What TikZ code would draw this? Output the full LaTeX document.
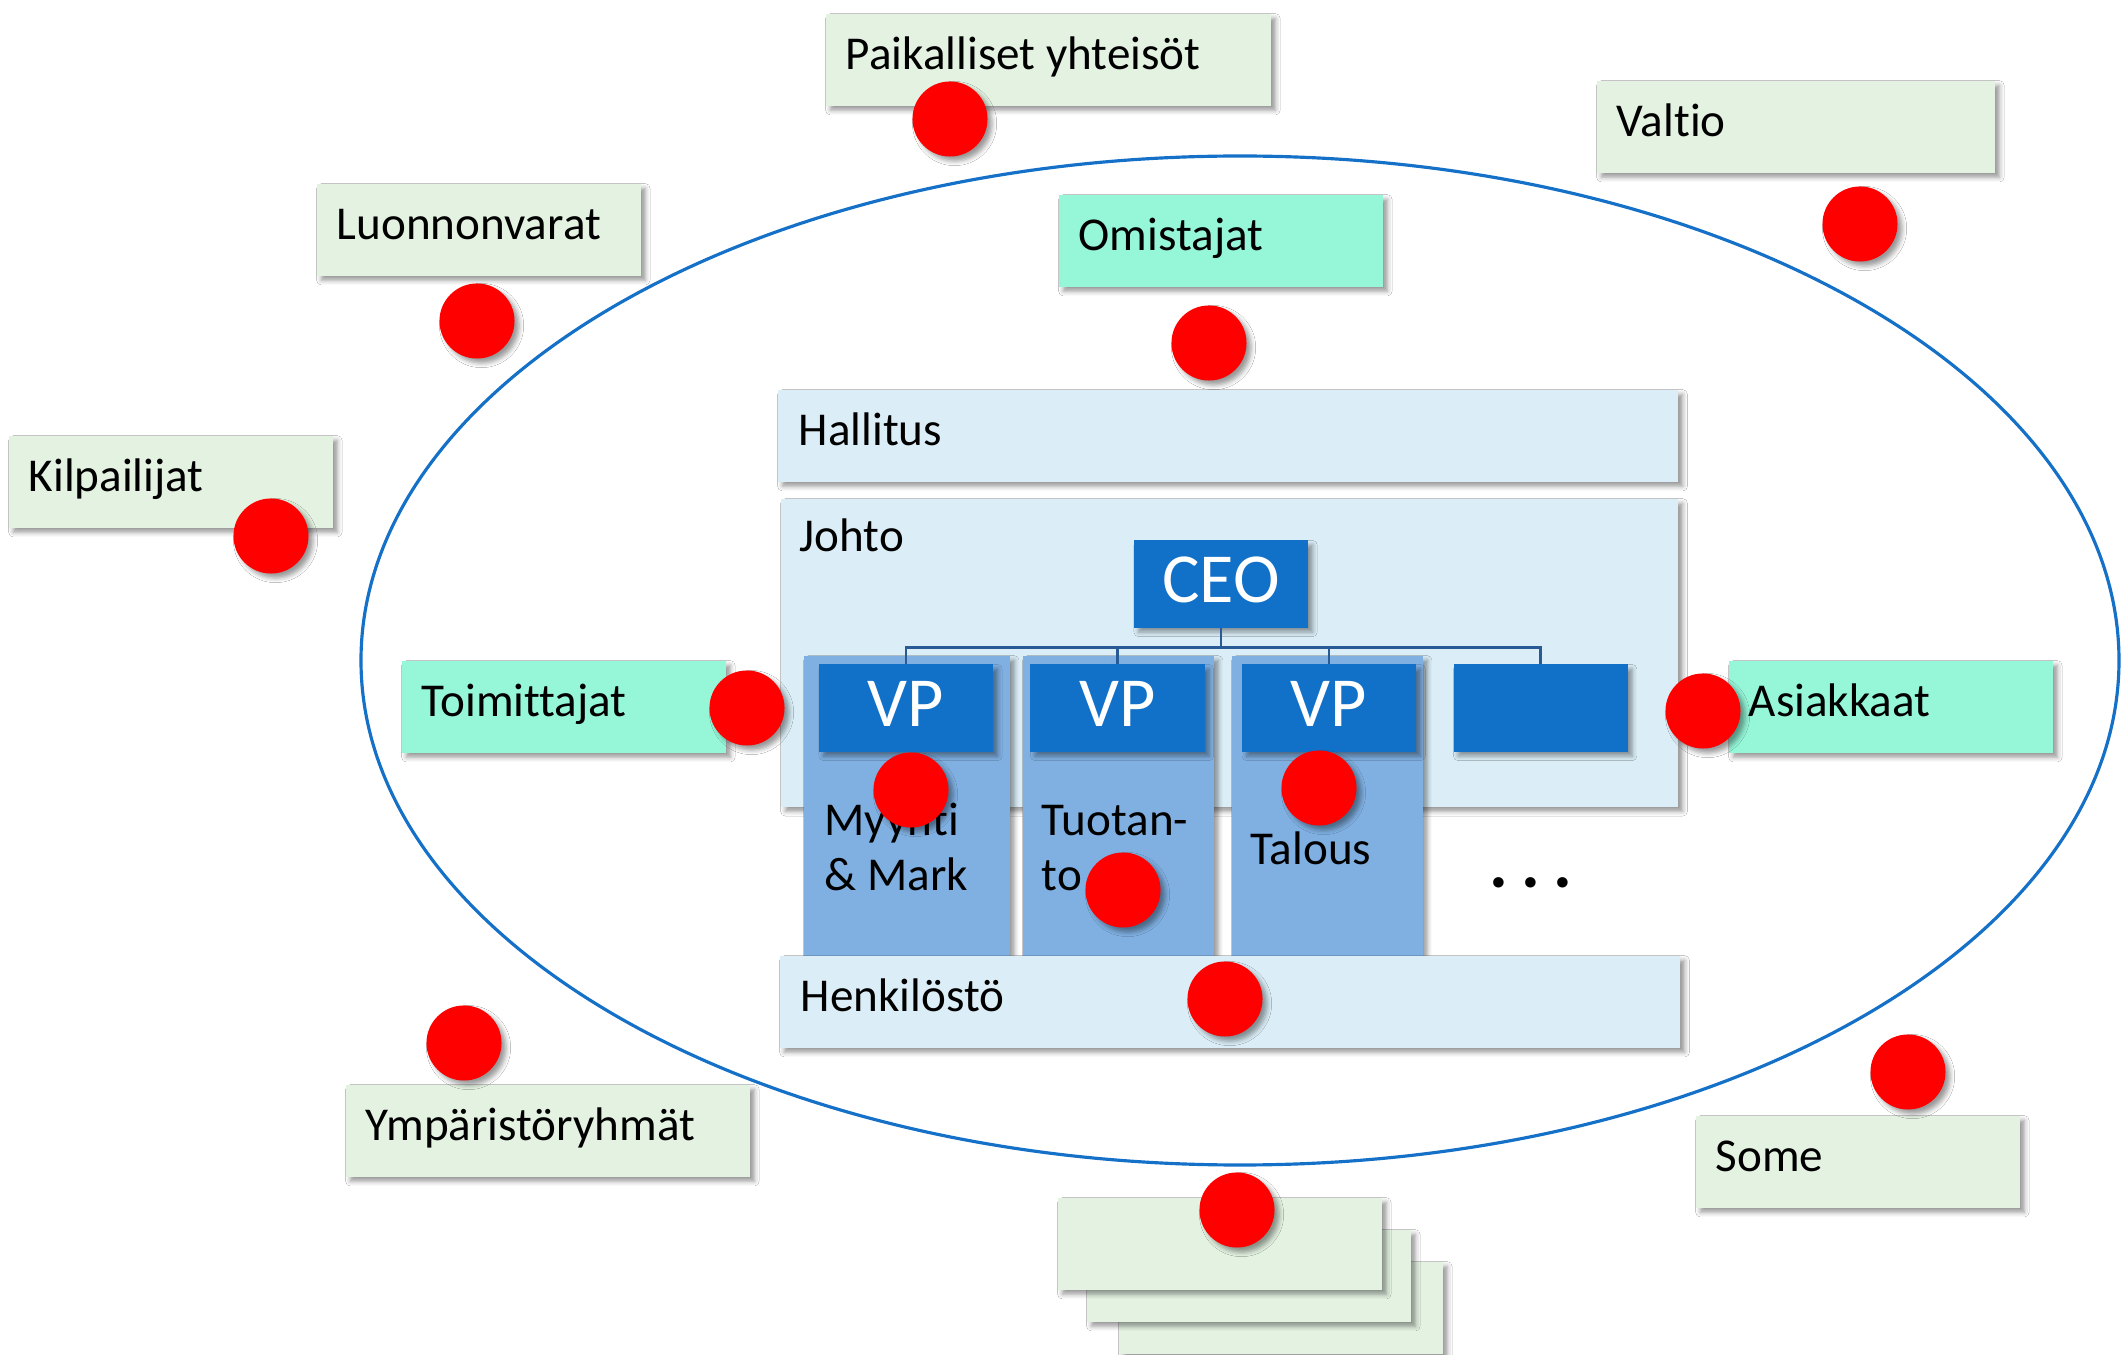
\documentclass[tikz,border=0pt]{standalone}
\usepackage{fontspec}
\setmainfont{Carlito}[Ligatures={NoCommon}]
\usetikzlibrary{positioning,calc,shadows.blur}

\definecolor{ringblue}{RGB}{21,112,200}
\definecolor{palegreen}{RGB}{227,242,225}
\definecolor{aquagreen}{RGB}{149,246,216}
\definecolor{bandblue}{RGB}{219,238,247}
\definecolor{colblue}{RGB}{128,176,226}
\definecolor{vpblue}{RGB}{17,112,200}
\definecolor{linkblue}{RGB}{40,90,150}

\pgfdeclareradialshading{vignette}{\pgfpoint{0bp}{0bp}}{%
  color(0bp)=(white); color(40bp)=(white); color(71bp)=(black!22)}

\tikzset{
  softshadow/.style={blur shadow={shadow xshift=1.3pt, shadow yshift=-1.3pt,
      shadow blur radius=1.3pt, shadow opacity=40}},
  stakebox/.style={rectangle, anchor=north west, fill=palegreen, softshadow,
      minimum height=9.2mm, inner xsep=2mm, inner ysep=0pt, align=flush left,
      text height=3.1mm, text depth=1.1mm, text width=#1},
  stakebox/.default=28.4mm,
  innerbox/.style={stakebox=#1, fill=aquagreen},
  innerbox/.default=28.4mm,
  band/.style={rectangle, anchor=north west, fill=bandblue, softshadow,
      minimum height=9.2mm, inner xsep=2.1mm, inner ysep=0pt, align=flush left,
      text height=3.1mm, text depth=1.1mm, text width=85.8mm},
  deptcol/.style={rectangle, anchor=north west, fill=colblue, softshadow,
      inner sep=0pt, minimum height=30mm, minimum width=#1},
  orgbox/.style={rectangle, fill=vpblue, softshadow, text=white, inner sep=0pt,
      minimum width=17.4mm, minimum height=8.7mm, text height=4.5mm,
      text depth=0.8mm, font=\fontsize{20}{24}\selectfont},
  link/.style={draw=linkblue, line width=0.8pt},
  plaintext/.style={anchor=base west, inner sep=0pt, align=left},
  reddot/.style={circle, fill=red, minimum size=7.5mm, inner sep=0pt, softshadow},
}

\begin{document}
\begin{tikzpicture}[x=0.01cm, y=-0.01cm, font=\fontsize{13.4}{15.5}\selectfont]
  \useasboundingbox (0,0) rectangle (2126,1355);
  % background
  \begin{scope}
    \clip (0,0) rectangle (2126,1355);
    \shade[shading=vignette] (-50,-60) rectangle (2500,1415);
  \end{scope}

  % organisation boundary
  \draw[ringblue, line width=0.9pt] (1240,660.5) ellipse [x radius=879, y radius=504.5];

  % organisation
  \node[band] (hallitus) at (777,389) {Hallitus};
  \node[band, text width=85.5mm, minimum height=30.8mm] (johto) at (780,498) {};
  \node[plaintext] (johtolbl) at (799,552) {Johto};
  \node[deptcol=20.6mm] (col1) at (803,655) {};
  \node[deptcol=19.1mm] (col2) at (1022,655) {};
  \node[deptcol=19.1mm] (col3) at (1231,655) {};

  \node[orgbox] (ceo) at (1221,584) {CEO};
  \node[orgbox] (vp1) at (906,708) {VP};
  \node[orgbox, right=3.6mm of vp1] (vp2) {VP};
  \node[orgbox, right=3.6mm of vp2] (vp3) {VP};
  \node[orgbox, right=3.6mm of vp3] (vp4) {};
  \foreach \v in {vp1,vp2,vp3,vp4}
    \draw[link] (ceo.south) -- ++(0,19) -| (\v.north);

  \node[band] (henkilosto) at (779,955) {Henkilöstö};

  % departments
  \node[plaintext] (myynti) at (824,890) {Myynti\\\& Mark};
  \node[plaintext] (tuotanto) at (1041,890) {Tuotan-\\to};
  \node[plaintext] (talous) at (1250,864) {Talous};
  \node[anchor=base, inner sep=0pt, font=\fontsize{20}{24}\selectfont\bfseries] (more)
    at (1531,887) {.\hspace{1.3mm}.\hspace{1.3mm}.};

  % stakeholders
  \node[stakebox=40.5mm] (paikalliset) at (825,13) {Paikalliset yhteisöt};
  \node[stakebox=35.8mm] (valtio) at (1596,80) {Valtio};
  \node[stakebox] (luonnonvarat) at (316,183) {Luonnonvarat};
  \node[innerbox] (omistajat) at (1058,194) {Omistajat};
  \node[stakebox] (kilpailijat) at (8,435) {Kilpailijat};
  \node[innerbox] (toimittajat) at (401,660) {Toimittajat};
  \node[innerbox] (asiakkaat) at (1728,660) {Asiakkaat};
  \node[stakebox=36.4mm] (ymparisto) at (345,1084) {Ympäristöryhmät};
  \node[stakebox] (some) at (1695,1115) {Some};
  \node[stakebox] (stack3) at (1118,1261) {};
  \node[stakebox] (stack2) at (1086,1229) {};
  \node[stakebox] (stack1) at (1057,1197) {};

  % red markers
  \foreach \n/\x/\y in {paikdot/950/119, valtiodot/1860/224, luonnodot/477/321,
      omistdot/1209/343, kilpdot/271/536, toimdot/747/708, asiakdot/1703/711,
      myyntidot/911/790, tuotdot/1123/890, taloudot/1319/788, henkdot/1225/999,
      ympdot/464/1043, somedot/1908/1072, stackdot/1237/1210}
    \node[reddot] (\n) at (\x,\y) {};
\end{tikzpicture}
\end{document}
